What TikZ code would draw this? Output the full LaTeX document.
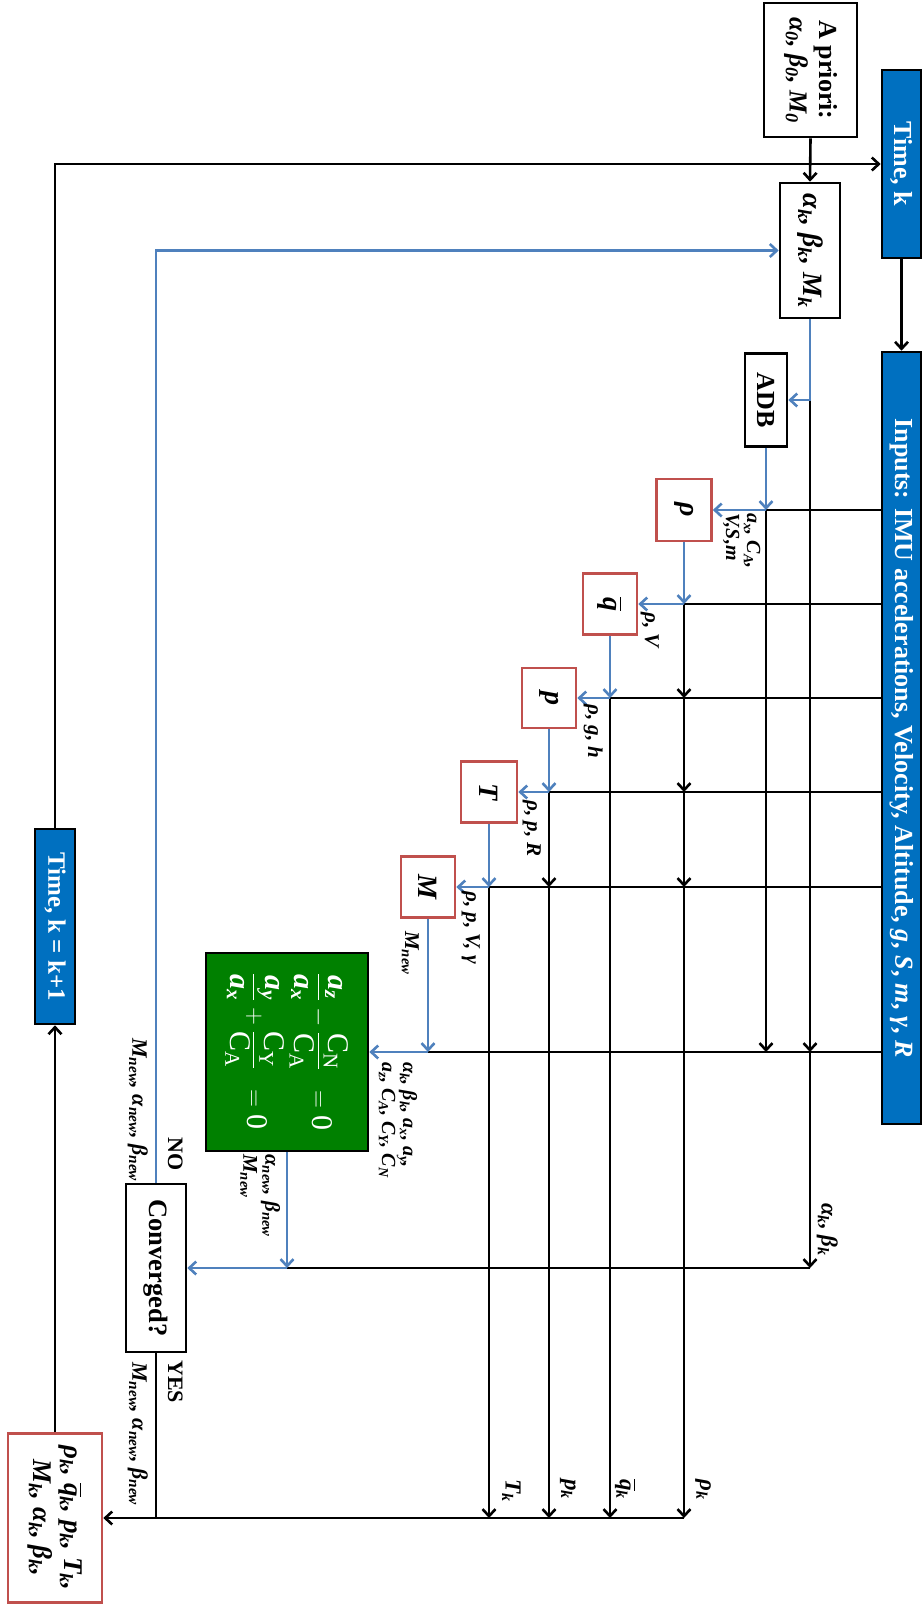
\documentclass[tikz,border=0pt]{standalone}
\usepackage{amsmath}
\usepackage{fontspec}
\setmainfont{Liberation Serif}
\usetikzlibrary{arrows.meta}
\definecolor{fillblue}{HTML}{0070C0}
\definecolor{lineblue}{HTML}{4F81BD}
\definecolor{boxred}{HTML}{C0504D}
\definecolor{boxgreen}{HTML}{008000}
\newcommand{\rotx}[1]{\rotatebox{-90}{#1}}
\newcommand{\sbx}[1]{\textsubscript{#1}}
\newcommand{\qb}{$\overline{\mbox{q}}$}
\newcommand{\tx}[1]{\text{#1}}
\tikzset{
  blk/.style={draw=black, line width=2.6pt},
  bl/.style={draw=lineblue, line width=2.6pt},
  tip/.style={-{Straight Barb[length=7pt,width=13pt]}},
  bbox/.style={draw=black, line width=2.6pt, fill=white, inner sep=0pt},
  rbox/.style={draw=boxred, line width=2.6pt, fill=white, inner sep=0pt,
    font=\fontsize{28}{30}\selectfont\bfseries\itshape},
  ubox/.style={draw=black, line width=2.6pt, fill=fillblue, text=white, inner sep=0pt,
    font=\fontsize{26}{28}\selectfont\bfseries},
  lab/.style={anchor=north east, inner sep=0pt, font=\fontsize{21}{22}\selectfont\bfseries\itshape},
  labu/.style={anchor=north east, inner sep=0pt, font=\fontsize{22}{23}\selectfont\bfseries},
}
\begin{document}
\begin{tikzpicture}[x=1pt,y=-1pt]
\useasboundingbox (0,0) rectangle (923,1606);
% boxes
\node[bbox, minimum width=93pt, minimum height=134pt, font=\fontsize{26}{30}\selectfont\bfseries] (apriori) at (810.5,70)
  {\rotx{\begin{tabular}{@{}c@{}}A priori:\\ \itshape α\sbx{0}, β\sbx{0}, M\sbx{0}\end{tabular}}};
\node[ubox, minimum width=39pt, minimum height=188pt] (timek) at (901.5,164) {\rotx{Time, k}};
\node[bbox, minimum width=60pt, minimum height=135pt, font=\fontsize{28}{30}\selectfont\bfseries\itshape] (ak) at (810,250.5)
  {\rotx{α\sbx{k}, β\sbx{k}, M\sbx{k}}};
\node[ubox, minimum width=39pt, minimum height=772pt] (inputs) at (901.5,738)
  {\rotx{Inputs: IMU accelerations, Velocity, Altitude, \textit{g}, \textit{S}, \textit{m}, \textit{γ}, \textit{R}}};
\node[bbox, minimum width=42pt, minimum height=93pt, font=\fontsize{26}{28}\selectfont\bfseries] (adb) at (766,400) {\rotx{ADB}};
\node[rbox, minimum width=55pt, minimum height=62pt] (rho) at (684,510) {\rotx{ρ}};
\node[rbox, minimum width=54pt, minimum height=61pt] (qbar) at (610,604) {\rotx{\qb}};
\node[rbox, minimum width=54pt, minimum height=60pt] (p) at (549,698) {\rotx{p}};
\node[rbox, minimum width=56pt, minimum height=61pt] (T) at (489,792) {\rotx{T}};
\node[rbox, minimum width=54pt, minimum height=61pt] (M) at (428,887) {\rotx{M}};
\node[draw=black, line width=2.6pt, fill=boxgreen, inner sep=0pt, minimum width=162pt, minimum height=198pt,
  text=white, font=\fontsize{30}{32}\selectfont] (green) at (287,1052)
  {\rotx{\color{white}\begin{tabular}{@{}l@{}}
   $\displaystyle\frac{\tx{\bfseries\itshape a\sbx{z}}}{\tx{\bfseries\itshape a\sbx{x}}}-\frac{\tx{C\sbx{N}}}{\tx{C\sbx{A}}}\;\;=\tx{0}$\\[18pt]
   $\displaystyle\frac{\tx{\bfseries\itshape a\sbx{y}}}{\tx{\bfseries\itshape a\sbx{x}}}+\frac{\tx{C\sbx{Y}}}{\tx{C\sbx{A}}}\;\;=\tx{0}$
  \end{tabular}}};
\node[bbox, minimum width=60pt, minimum height=168pt, font=\fontsize{26.5}{28}\selectfont\bfseries] (conv) at (156,1268) {\rotx{Converged?}};
\node[rbox, minimum width=94pt, minimum height=169pt, font=\fontsize{27}{31}\selectfont\bfseries\itshape] (out) at (55,1518)
  {\rotx{\begin{tabular}{@{}c@{}}ρ\sbx{k}, \qb\sbx{k}, p\sbx{k}, T\sbx{k},\\ M\sbx{k}, α\sbx{k}, β\sbx{k},\end{tabular}}};
\node[ubox, minimum width=40pt, minimum height=195pt, font=\fontsize{25}{27}\selectfont\bfseries] (timek1) at (55,926.5) {\rotx{Time, k = k+1}};
% junctions
\coordinate (jA) at (810,400);
\coordinate (j1) at (766,510);
\coordinate (j2) at (684,604);
\coordinate (j3) at (610,698);
\coordinate (j4) at (549,792);
\coordinate (j5) at (489,887);
\coordinate (j6) at (428,1052);
\coordinate (j7) at (287,1268);
\coordinate (jB) at (810,1052);
\coordinate (jC) at (810,1268);
\coordinate (jD) at (766,1052);
% black input lines
\draw[blk] (inputs.west |- j1) -- (j1);
\draw[blk] (inputs.west |- j2) -- (j2);
\draw[blk] (inputs.west |- j3) -- (j3);
\draw[blk] (inputs.west |- j4) -- (j4);
\draw[blk] (inputs.west |- j5) -- (j5);
\draw[blk] (inputs.west |- j6) -- (j6);
\draw[blk,tip] (jA) -- (jB);
\draw[blk,tip] (jB) -- (jC);
\draw[blk] (jC) -- (j7);
\draw[blk,tip] (j1) -- (jD);
\draw[blk,tip] (j2) -- (j2 |- j3);
\draw[blk,tip] (j2 |- j3) -- (j2 |- j4);
\draw[blk,tip] (j2 |- j4) -- (j2 |- j5);
\draw[blk,tip] (j2 |- j5) -- (j2 |- out.east);
\draw[blk,tip] (j3) -- (j3 |- out.east);
\draw[blk,tip] (j4) -- (j4 |- j5);
\draw[blk,tip] (j4 |- j5) -- (j4 |- out.east);
\draw[blk,tip] (j5) -- (j5 |- out.east);
\draw[blk,tip] (j2 |- out.east) -- (out.east);
\draw[blk] (conv.south) -- (conv.south |- out.east);
\draw[blk,tip] (out.north) -- (timek1.south);
\draw[blk,tip] (timek1.north) |- (timek.west);
\draw[blk,tip] (apriori.south) -- (ak.north);
\draw[blk,tip] (timek.south) -- (inputs.north);
% blue flow
\draw[bl,tip] (ak.south) |- (adb.east);
\draw[bl,tip] (adb.south) -- (j1);
\draw[bl,tip] (j1) -- (rho.east);
\draw[bl,tip] (rho.south) -- (j2);
\draw[bl,tip] (j2) -- (qbar.east);
\draw[bl,tip] (qbar.south) -- (j3);
\draw[bl,tip] (j3) -- (p.east);
\draw[bl,tip] (p.south) -- (j4);
\draw[bl,tip] (j4) -- (T.east);
\draw[bl,tip] (T.south) -- (j5);
\draw[bl,tip] (j5) -- (M.east);
\draw[bl,tip] (M.south) -- (j6);
\draw[bl,tip] (j6) -- (green.east);
\draw[bl,tip] (green.south) -- (j7);
\draw[bl,tip] (j7) -- (conv.east);
\draw[bl,tip] (conv.north) |- (ak.west);
% labels
\node[lab, font=\fontsize{20}{21}\selectfont\bfseries\itshape] (lrho) at (762,513)
  {\rotx{\begin{tabular}{@{}l@{}}a\sbx{x}, C\sbx{A},\\V,S,m\end{tabular}}};
\node[lab] (lq) at (659,612) {\rotx{ρ, V}};
\node[lab] (lp) at (603,704) {\rotx{ρ, g, h}};
\node[lab] (lT) at (541,800) {\rotx{ρ, p, R}};
\node[lab] (lM) at (480,891) {\rotx{ρ, p, V, γ}};
\node[lab] (lMnew) at (419,931) {\rotx{M\sbx{new}}};
\node[lab, font=\fontsize{20}{21}\selectfont\bfseries\itshape] (lgreen) at (418,1062)
  {\rotx{\begin{tabular}{@{}l@{}}α\sbx{k}, β\sbx{k}, a\sbx{x}, a\sbx{y},\\a\sbx{z}, C\sbx{A}, C\sbx{Y}, C\sbx{N}\end{tabular}}};
\node[lab] (lconvin) at (281,1154)
  {\rotx{\begin{tabular}{@{}l@{}}α\sbx{new}, β\sbx{new}\\M\sbx{new}\end{tabular}}};
\node[labu] (lno) at (183,1137) {\rotx{NO}};
\node[lab, font=\fontsize{22}{23}\selectfont\bfseries\itshape] (lnoval) at (148,1038) {\rotx{M\sbx{new}, α\sbx{new}, β\sbx{new}}};
\node[labu] (lyes) at (183,1360) {\rotx{YES}};
\node[lab, font=\fontsize{22}{23}\selectfont\bfseries\itshape] (lyesval) at (148,1362) {\rotx{M\sbx{new}, α\sbx{new}, β\sbx{new}}};
\node[lab, font=\fontsize{23}{24}\selectfont\bfseries\itshape] (lakbk) at (838,1203) {\rotx{α\sbx{k}, β\sbx{k}}};
\node[lab, font=\fontsize{23}{24}\selectfont\bfseries\itshape] (lrk) at (711,1479) {\rotx{ρ\sbx{k}}};
\node[lab, font=\fontsize{23}{24}\selectfont\bfseries\itshape] (lqk) at (636,1479) {\rotx{\qb\sbx{k}}};
\node[lab, font=\fontsize{23}{24}\selectfont\bfseries\itshape] (lpk) at (576,1479) {\rotx{p\sbx{k}}};
\node[lab, font=\fontsize{23}{24}\selectfont\bfseries\itshape] (lTk) at (521,1479) {\rotx{T\sbx{k}}};
\end{tikzpicture}
\end{document}
